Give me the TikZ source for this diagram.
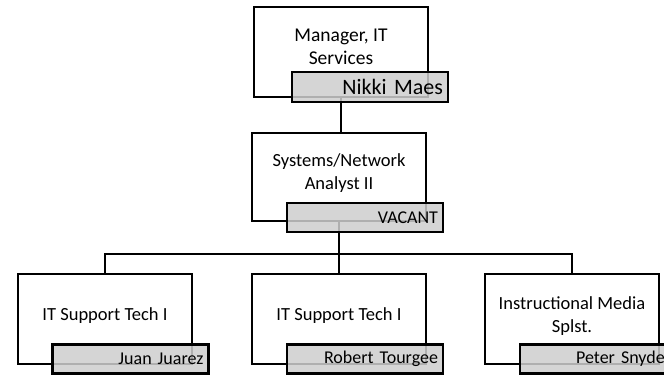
\documentclass[tikz,border=0pt]{standalone}
\usepackage{fontspec}
\setmainfont{Carlito}
\definecolor{barfill}{RGB}{206,206,206}
\tikzset{
  posbox/.style={draw=black, line width=2.6pt, fill=white, rectangle, minimum width=174pt, minimum height=90pt, inner sep=0pt, align=center, font=\fontsize{18.5}{22.5}\selectfont},
  namebar/.style={draw=black, line width=2.6pt, fill=barfill, fill opacity=0.85, text opacity=1, rectangle, minimum width=156pt, minimum height=29pt, inner xsep=5pt, inner ysep=0pt, text width=146pt, align=right, font=\fontsize{18}{20}\selectfont},
  conn/.style={draw=black, line width=2.6pt}
}
\begin{document}
\begin{tikzpicture}[x=1pt,y=-1pt]
\useasboundingbox (0,0) rectangle (664,375);
% boxes
\node[posbox] (top) at (341,52) {};
\node[posbox, minimum height=88pt] (mid) at (339,177) {};
\node[posbox] (b1) at (105,319) {};
\node[posbox] (b2) at (339,319) {};
\node[posbox] (b3) at (572,319) {};
% connectors
\coordinate (hl) at (105,254);
\coordinate (hr) at (572,254);
\coordinate (hm) at (339,254);
\draw[conn] (top.south) -- (top.south |- mid.north);
\draw[conn] (mid.south) -- (hm);
\draw[conn, line cap=rect] (b1.north) -- (hl) -- (hr) -- (b3.north);
\draw[conn] (hm) -- (b2.north);
% titles
\node[font=\fontsize{19.5}{23}\selectfont, align=center] (ttop) at (341,47) {Manager, IT\\Services};
\node[font=\fontsize{18.5}{22.5}\selectfont, align=center] (tmid) at (339,173) {Systems/Network\\Analyst II};
\node[font=\fontsize{18.5}{22.5}\selectfont, align=center] (tb1) at (105,316) {IT Support Tech I};
\node[font=\fontsize{18.5}{22.5}\selectfont, align=center] (tb2) at (339,316) {IT Support Tech I};
\node[font=\fontsize{18.5}{22.5}\selectfont, align=center] (tb3) at (572,316) {Instructional Media\\Splst.};
% name bars
\node[namebar, minimum height=30pt, font=\fontsize{22}{24}\selectfont] (ntop) at (370,87) {Nikki Maes};
\node[namebar] (nmid) at (365,217.5) {VACANT};
\node[namebar] (nb1) at (130.5,359) {Juan Juarez};
\node[namebar] (nb2) at (365,359) {Robert Tourgee};
\node[namebar] (nb3) at (598,359) {Peter Snyder};
\end{tikzpicture}
\end{document}
